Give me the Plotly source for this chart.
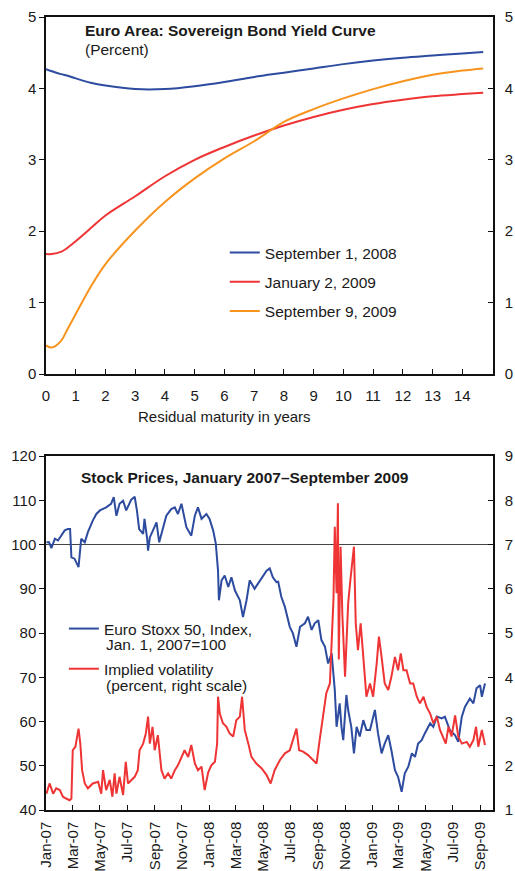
import plotly.graph_objects as go

# ---- top panel: yield curves (percent) ----
maturity = [0, 0.2, 0.5, 0.7, 1, 1.5, 2, 3, 4, 5, 6, 7, 8, 9, 10, 11, 12, 13, 14, 14.7]
curve_sep08 = [4.27, 4.24, 4.20, 4.18, 4.14, 4.08, 4.04, 3.99, 3.99, 4.03, 4.09, 4.16, 4.22,
               4.28, 4.34, 4.39, 4.43, 4.46, 4.49, 4.51]
curve_jan09 = [1.68, 1.68, 1.71, 1.76, 1.86, 2.04, 2.22, 2.49, 2.77, 3.00, 3.18, 3.34, 3.48,
               3.60, 3.70, 3.78, 3.84, 3.89, 3.92, 3.94]
curve_sep09 = [0.40, 0.37, 0.46, 0.61, 0.84, 1.22, 1.54, 2.01, 2.41, 2.74, 3.02, 3.26, 3.53,
               3.71, 3.86, 3.99, 4.10, 4.19, 4.25, 4.28]
curve_names = ["September 1, 2008", "January 2, 2009", "September 9, 2009"]
maturity_ticks = list(range(0, 16))
maturity_labels = [str(i) for i in range(0, 15)] + [""]

# ---- bottom panel: Euro Stoxx 50 (index) ----
stoxx_dates = [
    "2007-01-01", "2007-01-07", "2007-01-12", "2007-01-20", "2007-01-27", "2007-02-04",
    "2007-02-11", "2007-02-18", "2007-02-23", "2007-02-26", "2007-03-05", "2007-03-14",
    "2007-03-20", "2007-03-28", "2007-04-04", "2007-04-15", "2007-04-23", "2007-05-01",
    "2007-05-15", "2007-05-26", "2007-06-01", "2007-06-07", "2007-06-14", "2007-06-22",
    "2007-06-29", "2007-07-10", "2007-07-18", "2007-07-23", "2007-07-28", "2007-08-06",
    "2007-08-09", "2007-08-15", "2007-08-17", "2007-08-21", "2007-08-28", "2007-09-05",
    "2007-09-11", "2007-09-20", "2007-09-27", "2007-10-08", "2007-10-16", "2007-10-23",
    "2007-10-31", "2007-11-11", "2007-11-22", "2007-11-30", "2007-12-07", "2007-12-15",
    "2007-12-26", "2008-01-02", "2008-01-10", "2008-01-16", "2008-01-21", "2008-01-23",
    "2008-01-29", "2008-02-05", "2008-02-13", "2008-02-20", "2008-02-28", "2008-03-10",
    "2008-03-17", "2008-03-25", "2008-04-01", "2008-04-12", "2008-04-24", "2008-05-09",
    "2008-05-16", "2008-05-23", "2008-05-31", "2008-06-04", "2008-06-11", "2008-06-19",
    "2008-06-30", "2008-07-07", "2008-07-15", "2008-07-23", "2008-08-03", "2008-08-10",
    "2008-08-18", "2008-08-25", "2008-09-02", "2008-09-09", "2008-09-17", "2008-09-24",
    "2008-10-02", "2008-10-05", "2008-10-09", "2008-10-13", "2008-10-20", "2008-10-24",
    "2008-10-28", "2008-11-04", "2008-11-08", "2008-11-15", "2008-11-21", "2008-11-27",
    "2008-12-04", "2008-12-12", "2008-12-19", "2008-12-27", "2009-01-03", "2009-01-07",
    "2009-01-14", "2009-01-22", "2009-01-29", "2009-02-06", "2009-02-13", "2009-02-21",
    "2009-02-28", "2009-03-08", "2009-03-15", "2009-03-23", "2009-03-31", "2009-04-07",
    "2009-04-14", "2009-04-22", "2009-04-29", "2009-05-11", "2009-05-18", "2009-05-26",
    "2009-06-06", "2009-06-13", "2009-06-24", "2009-07-06", "2009-07-13", "2009-07-21",
    "2009-07-28", "2009-08-08", "2009-08-16", "2009-08-23", "2009-08-31", "2009-09-04",
    "2009-09-11",
]
stoxx_values = [
    100.5, 100.5, 99.2, 101.3, 100.9, 102.0,
    103.2, 103.5, 103.5, 97.1, 96.8, 94.9,
    101.3, 100.5, 102.8, 105.4, 106.9, 107.7,
    108.4, 109.2, 110.7, 106.5, 109.2, 109.9,
    107.7, 110.1, 110.8, 107.7, 103.5, 102.4,
    105.8, 101.3, 98.6, 101.6, 103.2, 105.0,
    100.5, 103.9, 106.5, 108.0, 108.4, 106.9,
    109.2, 103.9, 102.0, 106.5, 108.4, 105.8,
    106.9, 105.8, 103.2, 100.2, 94.1, 87.4,
    91.9, 93.0, 90.4, 92.6, 89.6, 87.4,
    83.6, 87.4, 91.9, 90.0, 91.9, 94.1,
    94.6, 92.6, 91.5, 91.6, 88.2, 85.9,
    81.4, 79.9, 76.9, 81.4, 82.2, 83.7,
    80.7, 82.2, 82.9, 78.4, 76.9, 73.1,
    75.4, 72.4, 67.1, 58.8, 64.1, 58.8,
    55.8, 66.0, 62.6, 58.8, 52.8, 58.8,
    56.6, 60.3, 58.1, 58.1, 61.1, 62.6,
    57.3, 52.8, 55.0, 56.9, 53.5, 49.0,
    47.5, 44.1, 48.3, 49.8, 52.8, 52.0,
    55.0, 55.8, 57.3, 59.6, 58.8, 61.1,
    60.7, 61.1, 58.1, 56.9, 55.4, 61.1,
    63.3, 65.2, 64.1, 67.5, 68.2, 65.6,
    68.6,
]

# ---- bottom panel: implied volatility (percent, right scale) ----
vol_dates = [
    "2007-01-01", "2007-01-08", "2007-01-16", "2007-01-23", "2007-01-31", "2007-02-07",
    "2007-02-14", "2007-02-22", "2007-02-26", "2007-03-01", "2007-03-07", "2007-03-14",
    "2007-03-18", "2007-03-22", "2007-03-28", "2007-04-04", "2007-04-15", "2007-04-27",
    "2007-05-04", "2007-05-08", "2007-05-15", "2007-05-23", "2007-05-29", "2007-06-03",
    "2007-06-07", "2007-06-14", "2007-06-22", "2007-06-28", "2007-07-03", "2007-07-10",
    "2007-07-18", "2007-07-25", "2007-07-29", "2007-08-06", "2007-08-12", "2007-08-17",
    "2007-08-21", "2007-08-27", "2007-09-01", "2007-09-08", "2007-09-16", "2007-09-23",
    "2007-10-01", "2007-10-08", "2007-10-16", "2007-10-23", "2007-10-31", "2007-11-07",
    "2007-11-15", "2007-11-22", "2007-11-30", "2007-12-07", "2007-12-15", "2007-12-22",
    "2007-12-30", "2008-01-06", "2008-01-14", "2008-01-19", "2008-01-21", "2008-01-25",
    "2008-02-01", "2008-02-09", "2008-02-16", "2008-02-24", "2008-03-02", "2008-03-10",
    "2008-03-15", "2008-03-21", "2008-03-29", "2008-04-05", "2008-04-16", "2008-04-28",
    "2008-05-09", "2008-05-18", "2008-05-27", "2008-06-08", "2008-06-19", "2008-06-30",
    "2008-07-07", "2008-07-15", "2008-07-21", "2008-07-30", "2008-08-10", "2008-08-21",
    "2008-08-29", "2008-09-05", "2008-09-13", "2008-09-20", "2008-09-28", "2008-10-06",
    "2008-10-09", "2008-10-13", "2008-10-16", "2008-10-18", "2008-10-22", "2008-10-26",
    "2008-11-01", "2008-11-08", "2008-11-13", "2008-11-21", "2008-11-25", "2008-11-30",
    "2008-12-06", "2008-12-12", "2008-12-19", "2008-12-27", "2009-01-03", "2009-01-11",
    "2009-01-16", "2009-01-22", "2009-01-29", "2009-02-06", "2009-02-13", "2009-02-21",
    "2009-02-28", "2009-03-06", "2009-03-12", "2009-03-19", "2009-03-27", "2009-04-03",
    "2009-04-11", "2009-04-18", "2009-04-26", "2009-05-03", "2009-05-11", "2009-05-18",
    "2009-05-26", "2009-06-02", "2009-06-09", "2009-06-15", "2009-06-21", "2009-06-28",
    "2009-07-06", "2009-07-13", "2009-07-21", "2009-08-01", "2009-08-08", "2009-08-16",
    "2009-08-22", "2009-08-27", "2009-09-04", "2009-09-11",
]
vol_values = [
    1.37, 1.60, 1.37, 1.49, 1.45, 1.30,
    1.26, 1.22, 1.26, 2.35, 2.43, 2.84,
    2.50, 1.90, 1.60, 1.49, 1.60, 1.64,
    1.37, 1.90, 1.45, 1.68, 1.30, 1.83,
    1.37, 1.75, 1.34, 2.09, 1.60, 1.68,
    1.75, 1.90, 2.35, 2.50, 2.73, 3.11,
    2.50, 2.88, 2.35, 2.69, 1.90, 1.71,
    1.83, 1.71, 1.90, 2.01, 2.20, 2.35,
    2.20, 2.47, 2.05, 1.90, 1.98, 1.45,
    1.85, 2.01, 2.09, 2.50, 3.56, 3.18,
    2.96, 2.88, 2.73, 2.66, 3.03, 3.11,
    3.56, 2.81, 2.50, 2.20, 2.05, 1.94,
    1.79, 1.60, 1.90, 2.13, 2.28, 2.35,
    2.58, 2.84, 2.35, 2.32, 2.24, 2.13,
    2.05, 2.58, 3.11, 3.64, 3.86, 5.75,
    7.40, 5.90, 7.93, 4.40, 6.95, 5.40,
    4.01, 5.67, 6.20, 6.95, 5.22, 4.61,
    5.22, 4.39, 3.56, 3.86, 3.56, 4.31,
    4.92, 4.46, 3.86, 3.71, 4.01, 4.46,
    4.16, 4.54, 4.16, 4.16, 3.86, 3.86,
    3.56, 3.41, 3.56, 3.33, 3.18, 2.96,
    3.11, 2.81, 2.66, 2.50, 2.88, 2.66,
    3.14, 2.66, 2.50, 2.54, 2.43, 2.58,
    2.88, 2.43, 2.81, 2.47,
]
# legend labels: first line goes in the legend, second line is set just below it
stoxx_name = ["Euro Stoxx 50, Index,", "Jan. 1, 2007=100"]
vol_name = ["Implied volatility", "(percent, right scale)"]
month_ticks = [
    "2007-01-01", "2007-03-01", "2007-05-01", "2007-07-01", "2007-09-01", "2007-11-01",
    "2008-01-01", "2008-03-01", "2008-05-01", "2008-07-01", "2008-09-01", "2008-11-01",
    "2009-01-01", "2009-03-01", "2009-05-01", "2009-07-01", "2009-09-01",
]
BASE_LEVEL = 100

BLUE = "#2D4B9F"
RED = "#EE3434"
ORANGE = "#F7941E"
FONT = "Liberation Sans, Arial, sans-serif"
INK = "#1a1a1a"

fig = go.Figure()

# the last curve sits on the right-hand axis (same 0-5 scale) so that axis gets drawn
for vals, name, color, yax in zip([curve_sep08, curve_jan09, curve_sep09], curve_names,
                                  [BLUE, RED, ORANGE], ["y", "y", "y2"]):
    fig.add_trace(go.Scatter(
        x=maturity, y=vals, mode="lines", name=name, line=dict(color=color, width=2, shape="spline"),
        xaxis="x", yaxis=yax, legend="legend", legendgroup=name,
    ))

fig.add_trace(go.Scatter(
    x=stoxx_dates, y=stoxx_values, mode="lines", name=stoxx_name[0],
    line=dict(color=BLUE, width=2), xaxis="x2", yaxis="y3", legend="legend2", legendgroup="stoxx",
))
fig.add_trace(go.Scatter(
    x=vol_dates, y=vol_values, mode="lines", name=vol_name[0],
    line=dict(color=RED, width=2), xaxis="x2", yaxis="y4", legend="legend2", legendgroup="vol",
))

fig.add_shape(type="line", xref="x2 domain", x0=0, x1=1, yref="y3", y0=BASE_LEVEL, y1=BASE_LEVEL,
              line=dict(color="#444", width=1.2), layer="below")

axis_common = dict(showline=True, linecolor="#111", linewidth=1.5, showgrid=False, zeroline=False,
                   automargin=False, tickcolor="#111", ticklen=5,
                   tickfont=dict(family=FONT, size=15, color=INK))

top_dom = [0.5498, 1.0]
bot_dom = [0.0, 0.4464]

fig.update_layout(
    width=515, height=871,
    margin=dict(l=46, r=22, t=17, b=61, autoexpand=False),
    paper_bgcolor="white", plot_bgcolor="white",
    font=dict(family=FONT, size=15, color=INK),
    xaxis=dict(axis_common, domain=[0, 1], anchor="y", range=[0, 15.03], tickvals=maturity_ticks,
               ticktext=maturity_labels, ticks="inside", mirror=True, ticklabelstandoff=7),
    yaxis=dict(axis_common, domain=top_dom, anchor="x", range=[0, 5], dtick=1, ticks="outside"),
    yaxis2=dict(axis_common, overlaying="y", side="right", anchor="x", range=[0, 5], dtick=1,
                ticks="inside", ticklabelstandoff=7),
    xaxis2=dict(axis_common, domain=[0, 1], anchor="y3", type="date",
                range=["2006-12-31", "2009-09-29"], tickvals=month_ticks, tickformat="%b-%y",
                tickangle=-90, ticks="inside", mirror=True, ticklabelstandoff=4),
    yaxis3=dict(axis_common, domain=bot_dom, anchor="x2", range=[40, 120], dtick=10, ticks="outside"),
    yaxis4=dict(axis_common, overlaying="y3", side="right", anchor="x2", range=[1, 9], dtick=1,
                ticks="inside", ticklabelstandoff=7),
    legend=dict(x=0.40, y=0.7238, xanchor="left", yanchor="top", bgcolor="rgba(0,0,0,0)",
                font=dict(family=FONT, size=15.5, color=INK), tracegroupgap=6),
    legend2=dict(x=0.04, y=0.2497, xanchor="left", yanchor="top", bgcolor="rgba(0,0,0,0)",
                 font=dict(family=FONT, size=15.5, color=INK), tracegroupgap=17),
    annotations=[
        dict(text="<b>Euro Area: Sovereign Bond Yield Curve</b>", xref="paper", yref="paper",
             x=0.0828, y=0.9836, xanchor="left", yanchor="middle", showarrow=False,
             font=dict(size=15.5)),
        dict(text="(Percent)", xref="paper", yref="paper", x=0.0828, y=0.9589, xanchor="left",
             yanchor="middle", showarrow=False, font=dict(size=15.5)),
        dict(text="Residual maturity in years", xref="x", yref="paper", x=6, y=0.4956,
             xanchor="center", yanchor="middle", showarrow=False, font=dict(size=15)),
        dict(text="<b>Stock Prices, January 2007\u2013September 2009</b>", xref="paper",
             yref="paper", x=0.0738, y=0.4199, xanchor="left", yanchor="middle", showarrow=False,
             font=dict(size=15.5)),
        dict(text=stoxx_name[1], xref="paper", yref="paper", x=0.1287, y=0.2093, xanchor="left",
             yanchor="middle", showarrow=False, font=dict(size=15.5)),
        dict(text=vol_name[1], xref="paper", yref="paper", x=0.1287, y=0.1564, xanchor="left",
             yanchor="middle", showarrow=False, font=dict(size=15.5)),
    ],
)

# drop the browser's default body margin so the figure fills the window exactly
fig.write_html("out.html", config={"displayModeBar": False},
               post_script="document.body.style.margin='0';document.body.style.overflow='hidden';")
